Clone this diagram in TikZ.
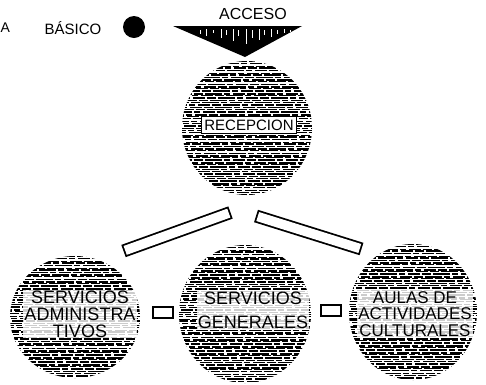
\documentclass[tikz,border=0pt]{standalone}
\usepackage{fontspec}
\setmainfont{Liberation Sans}
\usetikzlibrary{calc}
\tikzset{
  lbl/.style={font=\fontsize{#1}{#1}\selectfont, inner sep=0pt, align=center},
  blob/.style={circle, inner sep=0pt, minimum size=#1},
  txtband/.style={fill=white, fill opacity=0.8, text opacity=1, inner sep=1pt, align=center},
  bar/.style={line width=13pt, black, line cap=butt,
    postaction={draw=white, line width=9.4pt, shorten <=1.8pt, shorten >=1.8pt}},
  smallbox/.style={draw, line width=2pt, fill=white, minimum width=20pt, minimum height=11pt, inner sep=0pt},
}
\newcommand{\hatchblob}[3]{%
  \begin{scope}
    \clip (#1) ellipse [x radius=#2, y radius=#3];
    \foreach \i in {0,...,62} {
      \pgfmathsetmacro\ph{mod(\i*37,29)}
      \pgfmathsetmacro\lw{1.0+0.7*mod(\i*13,5)/4}
      \pgfmathsetmacro\dy{2.3*\i+0.4*mod(\i*7,3)}
      \draw[line width=\lw pt, dash pattern=on 17pt off 2pt on 6pt off 3pt on 12pt off 1.5pt on 9pt off 2.5pt, dash phase=\ph pt]
        ($(#1)+(-#2-5,-#3+\dy)$) -- ++(2*#2+10,0);
    }
  \end{scope}}
\begin{document}
\begin{tikzpicture}[x=1pt,y=-1pt]
\useasboundingbox (0,0) rectangle (486,384);

% legend
\node[lbl=14, anchor=west] (za) at (0.5,28) {A};
\node[lbl=15] (basico) at (73,28) {BÁSICO};
\node[circle, fill=black, minimum size=22pt, inner sep=0pt] (dot) at (134,27) {};

% access
\node[lbl=16] (acceso) at (253,14) {ACCESO};
\coordinate (tl) at (173,26);
\coordinate (tr) at (302,26);
\coordinate (tap) at (245,57);
\fill[black] (tl) -- (tr) -- (tap) -- cycle;
\foreach \x/\a/\b in {200/30/34,206/29/36,213/30/33,221/29/38,226/30/35,233/29/41,238/30/36,246/29/44,252/30/38,259/29/40,264/30/35,271/29/37,277/30/34,284/29/33,290/30/32}
  \draw[white, line width=0.9pt] (\x,\a) -- (\x,\b);

% main blobs
\node[blob=132pt] (rec) at (247,128) {};
\hatchblob{247,128}{65}{67}
\node[blob=128pt] (adm) at (75,317) {};
\hatchblob{75,317}{65}{61}
\node[blob=134pt] (gen) at (245,314) {};
\hatchblob{245,314}{66}{69}
\node[blob=132pt] (aul) at (413,312) {};
\hatchblob{413,312}{64}{68}

% labels
\node[lbl=15, draw, line width=1pt, fill=white, inner sep=3pt] (trec) at (249,125) {RECEPCION};
\node[txtband, font=\fontsize{18}{17}\selectfont] (tadm) at (80,314) {SERVICIOS\\ADMINISTRA\\TIVOS};
\node[txtband, font=\fontsize{18}{24}\selectfont] (tgen) at (253,310) {SERVICIOS\\GENERALES};
\node[txtband, font=\fontsize{17}{16.5}\selectfont] (taul) at (415,314) {AULAS DE\\ACTIVIDADES\\CULTURALES};

% connectors (bars)
\coordinate (b1a) at (123.5,251);
\coordinate (b1b) at (230.5,212.5);
\coordinate (b2a) at (256,216);
\coordinate (b2b) at (361.5,249);
\draw[bar] (b1a) -- (b1b);
\draw[bar] (b2a) -- (b2b);

\node[smallbox] (s1) at (162.5,312) {};
\node[smallbox] (s2) at (331,310.5) {};
\end{tikzpicture}
\end{document}
